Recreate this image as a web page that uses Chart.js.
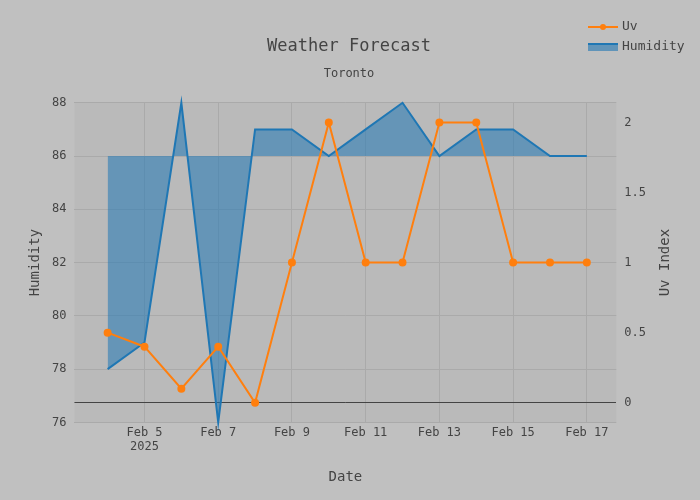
<!DOCTYPE html>
<html><head><meta charset="utf-8">
<script src="https://cdn.jsdelivr.net/npm/chart.js@4"></script>
<style>html,body{margin:0;background:#c0c0c0}#wrap{width:700px;height:500px}</style>
</head><body><div id="wrap"><canvas id="c"></canvas></div>
<script>
// Data
const days = [4, 5, 6, 7, 8, 9, 10, 11, 12, 13, 14, 15, 16, 17];
const humidity = [78, 79, 88, 76, 87, 87, 86, 87, 88, 86, 87, 87, 86, 86];
const uv = [0.5, 0.4, 0.1, 0.4, 0, 1, 2, 1, 1, 2, 2, 1, 1, 1];
const xTicks = [5, 7, 9, 11, 13, 15, 17];
const uvTicks = [0, 0.5, 1, 1.5, 2];

const FONT = '"DejaVu Sans Mono", monospace';
const TXT = '#444';

const plotBg = {
  id: 'plotBg',
  beforeDraw(chart) {
    const { ctx, chartArea: a } = chart;
    ctx.save();
    ctx.fillStyle = '#bababa';
    ctx.fillRect(a.left, a.top, a.right - a.left, a.bottom - a.top);
    ctx.restore();
  },
  afterDraw(chart) {
    const { ctx, chartArea: a } = chart;
    ctx.save();
    ctx.font = '13px ' + FONT;
    ctx.fillStyle = TXT;
    ctx.textBaseline = 'middle';
    // legend
    ctx.strokeStyle = '#ff7f0e'; ctx.lineWidth = 2;
    ctx.beginPath(); ctx.moveTo(588, 27); ctx.lineTo(618, 27); ctx.stroke();
    ctx.fillStyle = '#ff7f0e';
    ctx.beginPath(); ctx.arc(603, 27, 3, 0, Math.PI * 2); ctx.fill();
    ctx.fillStyle = 'rgba(31,119,180,0.6)';
    ctx.fillRect(588, 44, 30, 7);
    ctx.strokeStyle = '#1f77b4';
    ctx.beginPath(); ctx.moveTo(588, 44); ctx.lineTo(618, 44); ctx.stroke();
    ctx.fillStyle = TXT;
    ctx.fillText('Uv', 622, 27);
    ctx.fillText('Humidity', 622, 47);
    // y axis titles, both reading bottom to top
    ctx.font = '14px ' + FONT;
    ctx.textAlign = 'center';
    const cy = (a.top + a.bottom) / 2;
    [['Humidity', 35], ['Uv Index', 665]].forEach(([t, x]) => {
      ctx.save();
      ctx.translate(x, cy);
      ctx.rotate(-Math.PI / 2);
      ctx.fillText(t, 0, 0);
      ctx.restore();
    });
    ctx.restore();
  }
};

new Chart(document.getElementById('c'), {
  type: 'line',
  data: {
    datasets: [{
      label: 'Uv',
      data: days.map((d, i) => ({ x: d, y: uv[i] })),
      yAxisID: 'y1',
      borderColor: '#ff7f0e',
      backgroundColor: '#ff7f0e',
      borderWidth: 2,
      pointRadius: 3,
      pointHoverRadius: 3,
      tension: 0,
      fill: false,
      order: 0
    }, {
      label: 'Humidity',
      data: days.map((d, i) => ({ x: d, y: humidity[i] })),
      yAxisID: 'y',
      borderColor: '#1f77b4',
      backgroundColor: 'rgba(31,119,180,0.55)',
      borderWidth: 2,
      pointRadius: 0,
      tension: 0,
      fill: { value: 86 },
      clip: false,
      order: 1
    }]
  },
  options: {
    responsive: true,
    maintainAspectRatio: false,
    animation: false,
    layout: { padding: { top: 36, right: 46, left: 44, bottom: 10 } },
    plugins: {
      legend: { display: false },
      tooltip: { enabled: false },
      title: {
        display: true, text: 'Weather Forecast', color: TXT,
        font: { family: FONT, size: 17, weight: 'normal' }, padding: { top: 0, bottom: 10 }
      },
      subtitle: {
        display: true, text: 'Toronto', color: TXT,
        font: { family: FONT, size: 12 }, padding: { bottom: 22 }
      }
    },
    scales: {
      x: {
        type: 'linear', min: 3.1, max: 17.8,
        afterBuildTicks: s => { s.ticks = xTicks.map(v => ({ value: v })); },
        ticks: {
          color: TXT, font: { family: FONT, size: 12 }, maxRotation: 0,
          callback: v => v === 5 ? ['Feb 5', '2025'] : 'Feb ' + v
        },
        grid: { color: '#aaa', drawTicks: false },
        border: { display: false },
        title: { display: true, text: 'Date', color: TXT, font: { family: FONT, size: 14 }, padding: { top: 12 } }
      },
      y: {
        position: 'left', min: 76, max: 88,
        ticks: { stepSize: 2, color: TXT, font: { family: FONT, size: 12 }, padding: 8 },
        grid: { color: '#aaa', drawTicks: false },
        border: { display: false }
      },
      y1: {
        position: 'right', min: -0.14, max: 2.14,
        afterBuildTicks: s => { s.ticks = uvTicks.map(v => ({ value: v })); },
        ticks: { color: TXT, font: { family: FONT, size: 12 }, padding: 8, callback: v => String(v) },
        grid: { color: c => c.tick && c.tick.value === 0 ? '#444' : 'rgba(0,0,0,0)', drawTicks: false },
        border: { display: false }
      }
    }
  },
  plugins: [plotBg]
});
</script>
</body></html>
